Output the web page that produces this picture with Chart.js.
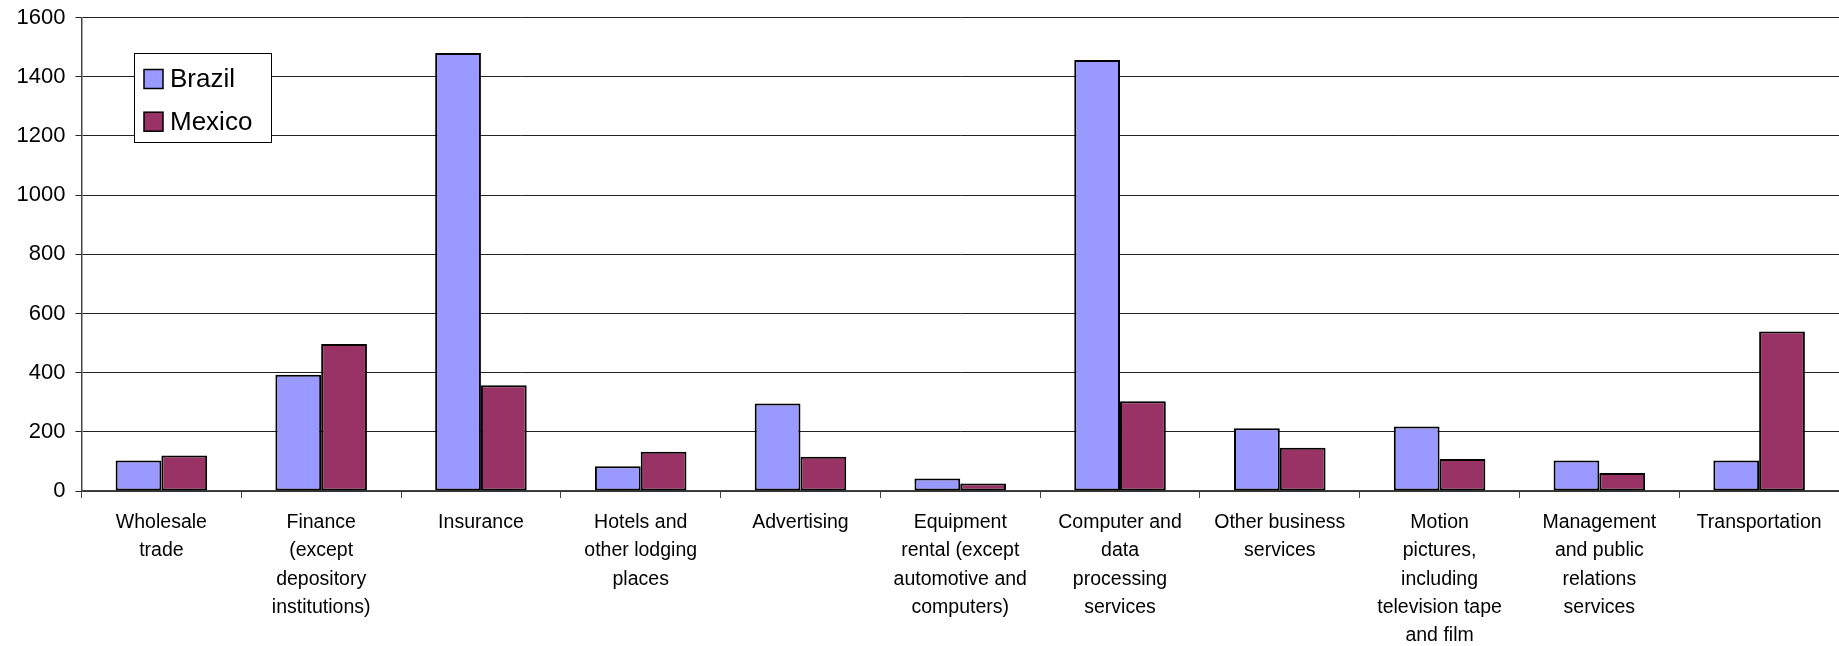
<!DOCTYPE html>
<html>
<head>
<meta charset="utf-8">
<script src="https://cdn.jsdelivr.net/npm/chart.js@4/dist/chart.umd.min.js"></script>
<style>
  html, body { margin: 0; padding: 0; background: #fff; }
  #wrap { width: 1839px; height: 646px; position: relative; }
</style>
</head>
<body>
<div id="wrap"><canvas id="c"></canvas></div>
<script>
const categories = [
  ["Wholesale", "trade"],
  ["Finance", "(except", "depository", "institutions)"],
  ["Insurance"],
  ["Hotels and", "other lodging", "places"],
  ["Advertising"],
  ["Equipment", "rental (except", "automotive and", "computers)"],
  ["Computer and", "data", "processing", "services"],
  ["Other business", "services"],
  ["Motion", "pictures,", "including", "television tape", "and film"],
  ["Management", "and public", "relations", "services"],
  ["Transportation"]
];
const brazil = [103, 393, 1480, 84, 296, 42, 1456, 212, 218, 103, 103];
const mexico = [120, 497, 357, 133, 116, 25, 303, 146, 108, 61, 539];
const seriesNames = ["Brazil", "Mexico"];
const seriesColors = ["#9999FF", "#993366"];
const yTicks = [0, 200, 400, 600, 800, 1000, 1200, 1400, 1600];

const FONT = "'Liberation Sans', Arial, sans-serif";

const legendPlugin = {
  id: 'boxLegend',
  afterDraw(chart) {
    const ctx = chart.ctx;
    const ds = chart.data.datasets;
    const bx = 134.5, by = 53.5, bw = 137, bh = 89;
    ctx.save();
    ctx.fillStyle = '#fff';
    ctx.fillRect(bx, by, bw, bh);
    ctx.strokeStyle = '#000';
    ctx.lineWidth = 1;
    ctx.strokeRect(bx, by, bw, bh);
    ctx.font = '26px ' + FONT;
    ctx.textBaseline = 'middle';
    ctx.textAlign = 'left';
    ds.forEach((d, i) => {
      const cy = 79 + i * 42.7;
      ctx.fillStyle = d.backgroundColor;
      ctx.fillRect(144, cy - 9.5, 19, 19);
      ctx.lineWidth = 1.5;
      ctx.strokeStyle = '#000';
      ctx.strokeRect(144, cy - 9.5, 19, 19);
      ctx.fillStyle = '#000';
      ctx.fillText(d.label, 170, cy + 1);
    });
    ctx.restore();
  }
};

new Chart(document.getElementById('c'), {
  type: 'bar',
  data: {
    labels: categories,
    datasets: [
      { label: seriesNames[0], data: brazil, backgroundColor: seriesColors[0], borderColor: '#000', borderWidth: 2, borderSkipped: false },
      { label: seriesNames[1], data: mexico, backgroundColor: seriesColors[1], borderColor: '#000', borderWidth: 2, borderSkipped: false }
    ]
  },
  options: {
    responsive: true,
    maintainAspectRatio: false,
    animation: false,
    layout: { padding: { top: 17.5, right: 0, left: 0, bottom: 0 } },
    datasets: { bar: { categoryPercentage: 0.573, barPercentage: 1.0 } },
    plugins: {
      legend: { display: false },
      tooltip: { enabled: false }
    },
    scales: {
      x: {
        grid: { display: true, drawOnChartArea: false, drawTicks: true, tickLength: 7, color: '#444', offset: true },
        border: { display: true, color: '#444', width: 1.5 },
        ticks: {
          autoSkip: false, maxRotation: 0, minRotation: 0, padding: 10,
          color: '#000',
          font: { family: FONT, size: 19.5, lineHeight: 1.46 }
        },
        afterFit(scale) { scale.height = 155; scale.paddingLeft = 0; scale.paddingRight = 0; }
      },
      y: {
        min: 0, max: 1600,
        afterBuildTicks(scale) { scale.ticks = yTicks.map(v => ({ value: v })); },
        grid: { color: '#222', lineWidth: 1, tickLength: 6 },
        border: { display: true, color: '#444', width: 1.5 },
        ticks: {
          padding: 10, color: '#000',
          font: { family: FONT, size: 22 },
          callback: (v) => String(v)
        },
        afterFit(scale) { scale.width = 81.5; scale.paddingTop = 0; scale.paddingBottom = 0; }
      }
    }
  },
  plugins: [legendPlugin]
});
</script>
</body>
</html>
